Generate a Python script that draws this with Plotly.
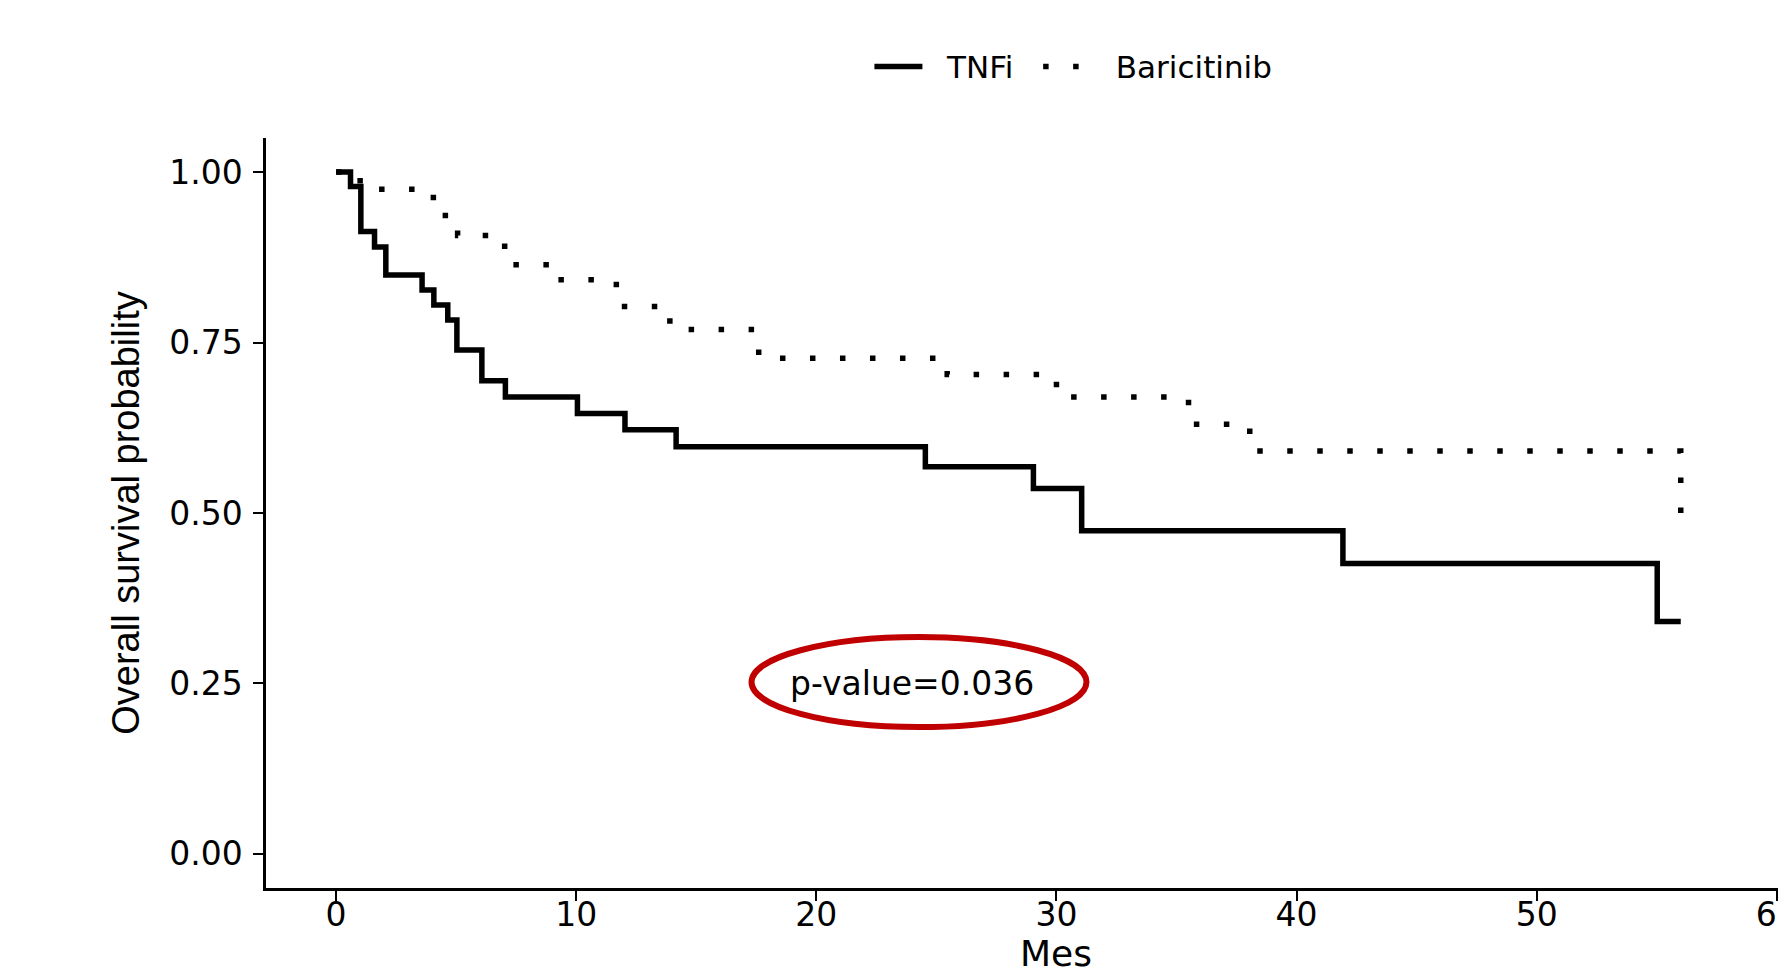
import plotly.graph_objects as go

# Kaplan-Meier step estimates (months, survival probability)
tnfi_time = [0, 0.6, 1.03, 1.6, 2.07, 3.58, 4.07, 4.65, 5.03, 6.07, 7.05, 10.05,
             12.03, 14.16, 24.54, 29.04, 31.05, 41.93, 55.02, 56.0]
tnfi_surv = [1.0, 0.979, 0.913, 0.890, 0.849, 0.827, 0.805, 0.783, 0.739, 0.694,
             0.670, 0.646, 0.622, 0.597, 0.568, 0.536, 0.474, 0.426, 0.341, 0.341]

bari_time = [0, 1.0, 4.05, 4.55, 5.06, 7.02, 8.93, 11.67, 13.9, 17.6, 25.45,
             30.0, 35.5, 38.05, 56.0]
bari_surv = [1.0, 0.975, 0.952, 0.930, 0.907, 0.864, 0.842, 0.803, 0.769, 0.727,
             0.703, 0.670, 0.630, 0.591, 0.493]

series_names = ["TNFi", "Baricitinib"]
x_ticks = [0, 10, 20, 30, 40, 50, 60]
y_ticks = [0.0, 0.25, 0.50, 0.75, 1.0]
p_label = "p-value=0.036"
p_pos = (24.0, 0.25)
ellipse_box = (17.3, 0.186, 31.25, 0.318)

FONT = "DejaVu Sans"
LW = 5.5
NB = "\u00a0"  # non-breaking space used to pad legend labels

fig = go.Figure()
fig.add_trace(go.Scatter(
    x=tnfi_time, y=tnfi_surv, mode="lines", name=NB * 2 + series_names[0] + NB * 2,
    line=dict(shape="hv", color="black", width=LW),
))
fig.add_trace(go.Scatter(
    x=bari_time, y=bari_surv, mode="lines", name=NB * 2 + series_names[1],
    line=dict(shape="hv", color="black", width=LW, dash="5.5px,24.5px"),
))

# p-value label with a red ellipse around it
fig.add_annotation(x=p_pos[0], y=p_pos[1], xref="x", yref="y", text=p_label,
                   showarrow=False, font=dict(family=FONT, size=33, color="black"))
fig.add_shape(type="circle", xref="x", yref="y",
              x0=ellipse_box[0], y0=ellipse_box[1], x1=ellipse_box[2], y1=ellipse_box[3],
              line=dict(color="#C00000", width=6))

# x-axis title, centred on the panel, sitting on the bottom edge
fig.add_annotation(x=30, y=0, xref="x", yref="paper", yshift=-88, text="Mes",
                   showarrow=False, yanchor="bottom",
                   font=dict(family=FONT, size=36, color="black"))

fig.update_layout(
    width=1778, height=976,
    margin=dict(l=266, r=0, t=138, b=88, autoexpand=False),
    paper_bgcolor="white", plot_bgcolor="white",
    showlegend=True,
    legend=dict(orientation="h", x=0.534, y=1.095, xanchor="center", yanchor="middle",
                font=dict(family=FONT, size=31, color="black"), itemwidth=48,
                bgcolor="rgba(0,0,0,0)"),
    xaxis=dict(range=[-2.92, 60.05], tickvals=x_ticks, ticks="outside", ticklen=10,
               tickwidth=2, tickcolor="black", showline=True, linecolor="black",
               linewidth=2.5, showgrid=False, zeroline=False, ticklabelstandoff=-14,
               ticklabeloverflow="allow", automargin=False,
               tickfont=dict(family=FONT, size=33, color="black")),
    yaxis=dict(range=[-0.05, 1.05], tickvals=y_ticks, tickformat=".2f", ticks="outside",
               ticklen=10, tickwidth=2, tickcolor="black", showline=True,
               linecolor="black", linewidth=2.5, showgrid=False, zeroline=False,
               ticklabelstandoff=4, automargin=False,
               tickfont=dict(family=FONT, size=33, color="black"),
               title=dict(text="Overall survival probability", standoff=18,
                          font=dict(family="Liberation Sans", size=38, color="black"))),
)

fig.write_html("out.html")
